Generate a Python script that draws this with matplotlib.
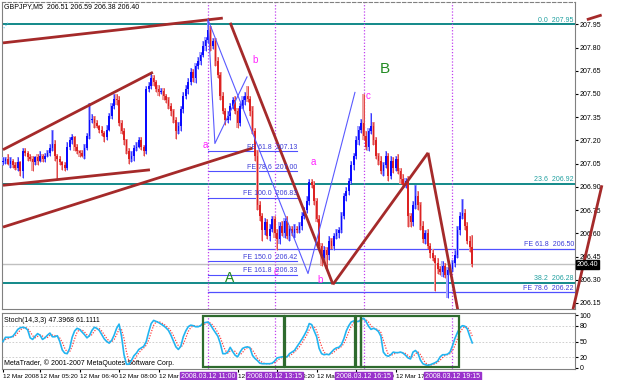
import numpy as np
import pandas as pd
import matplotlib
matplotlib.use("Agg")
import matplotlib.pyplot as plt
from matplotlib.patches import Rectangle

plt.rcParams['font.family'] = ['Liberation Sans', 'DejaVu Sans']

# GBPJPY M5, 12 Mar 2008, bar 0 = 04:05
first_open = 207.06
closes = [
    207.07, 207.08, 207.05, 207.07, 207.04, 207.02, 207.06, 207.00, 207.13, 207.12,
    207.09, 207.08, 207.06, 207.09, 207.07, 207.10, 207.08, 207.10, 207.12, 207.15,
    207.18, 207.10, 207.08, 207.06, 207.04, 207.02, 207.16, 207.20, 207.22, 207.16,
    207.13, 207.12, 207.10, 207.15, 207.23, 207.33, 207.34, 207.31, 207.29, 207.27,
    207.25, 207.22, 207.27, 207.36, 207.42, 207.47, 207.46, 207.31, 207.26, 207.20,
    207.13, 207.08, 207.10, 207.15, 207.16, 207.20, 207.16, 207.13, 207.53, 207.55,
    207.60, 207.58, 207.53, 207.51, 207.52, 207.49, 207.46, 207.42, 207.39, 207.33,
    207.26, 207.29, 207.40, 207.49, 207.53, 207.58, 207.64, 207.60, 207.68, 207.71,
    207.75, 207.81, 207.85, 207.91, 207.81, 207.84, 207.71, 207.62, 207.49, 207.39,
    207.33, 207.36, 207.42, 207.46, 207.39, 207.31, 207.42, 207.46, 207.49, 207.47,
    207.39, 207.26, 207.10, 206.78, 206.71, 206.62, 206.67, 206.58, 206.63, 206.69,
    206.60, 206.56, 206.65, 206.60, 206.68, 206.58, 206.63, 206.60, 206.63, 206.62,
    206.65, 206.71, 206.75, 206.81, 206.93, 206.91, 206.81, 206.69, 206.52, 206.44,
    206.49, 206.46, 206.55, 206.52, 206.58, 206.60, 206.62, 206.71, 206.84, 206.87,
    206.94, 207.04, 207.10, 207.20, 207.27, 207.31, 207.23, 207.16, 207.26, 207.29,
    207.20, 207.10, 207.07, 207.00, 207.04, 207.10, 206.97, 207.07, 207.02, 207.08,
    207.00, 206.95, 206.91, 206.94, 206.71, 206.67, 206.78, 206.84, 206.78, 206.65,
    206.56, 206.60, 206.52, 206.47, 206.44, 206.41, 206.37, 206.35, 206.39, 206.33,
    206.36, 206.37, 206.41, 206.46, 206.62, 206.71, 206.73, 206.65, 206.55, 206.51,
    206.40]

# wicks in pips above / below the body
up_wick = [
    2, 1, 3, 2, 1, 2, 3, 1, 2, 2,   1, 2, 2, 1, 2, 3, 1, 2, 2, 3,
    0, 2, 1, 2, 1, 2, 3, 2, 2, 1,   2, 1, 2, 3, 2, 0, 3, 2, 2, 1,
    2, 1, 3, 2, 2, 3, 0, 3, 2, 2,   1, 2, 3, 2, 3, 2, 2, 1, 2, 3,
    0, 2, 1, 3, 2, 2, 1, 2, 2, 1,   2, 3, 2, 2, 3, 2, 3, 2, 2, 3,
    2, 3, 2, 0, 3, 2, 2, 3, 2, 2,   2, 3, 2, 2, 3, 2, 2, 3, 2, 0,
    2, 3, 2, 4, 3, 2, 3, 2, 3, 2,   2, 3, 2, 3, 2, 3, 2, 2, 3, 2,
    2, 3, 2, 3, 2, 0, 3, 2, 3, 2,   3, 2, 3, 2, 2, 3, 2, 3, 2, 3,
    2, 3, 2, 3, 2, 3, 0, 3, 2, 0,   3, 2, 2, 3, 2, 3, 2, 3, 2, 2,
    3, 2, 3, 2, 3, 2, 3, 0, 3, 2,   3, 2, 3, 2, 3, 2, 3, 2, 3, 2,
    2, 3, 2, 3, 3, 3, 0, 3, 2, 3,   0]
dn_wick = [
    2, 2, 1, 3, 2, 1, 2, 3, 0, 2,   2, 1, 0, 2, 3, 1, 2, 2, 1, 2,
    2, 3, 0, 2, 3, 2, 1, 2, 2, 3,   2, 3, 0, 2, 1, 2, 2, 3, 1, 2,
    2, 3, 2, 1, 2, 2, 3, 2, 2, 3,   2, 0, 2, 3, 2, 1, 2, 0, 2, 2,
    2, 3, 2, 2, 1, 3, 2, 2, 3, 2,   0, 2, 3, 2, 2, 3, 2, 2, 3, 2,
    2, 1, 3, 2, 3, 2, 3, 2, 3, 2,   3, 2, 3, 2, 2, 3, 2, 2, 3, 2,
    3, 2, 3, 3, 3, 0, 3, 2, 3, 2,   3, 0, 3, 2, 3, 2, 3, 2, 3, 2,
    2, 3, 2, 2, 3, 2, 3, 2, 3, 0,   3, 0, 3, 2, 3, 2, 3, 2, 2, 3,
    2, 2, 3, 2, 3, 2, 3, 2, 3, 2,   3, 2, 3, 2, 3, 2, 3, 2, 3, 2,
    2, 3, 2, 2, 0, 3, 2, 2, 3, 3,   2, 3, 2, 3, 2, 0, 3, 2, 3, 2,
    0, 3, 2, 3, 2, 3, 2, 3, 2, 3,   0]

# longer wicks
hi_bars = [20, 35, 46, 60, 83, 99, 125, 146, 149, 167, 186, 190]
hi_vals = [207.27, 207.44, 207.50, 207.64, 207.97, 207.55, 206.95, 207.50, 207.38, 206.91,
           206.82, 206.59]
lo_bars = [8, 12, 22, 32, 51, 57, 70, 105, 111, 129, 131, 164, 175, 180, 190]
lo_vals = [206.96, 207.00, 206.95, 207.09, 207.05, 207.10, 207.21, 206.55, 206.49, 206.39,
           206.37, 206.64, 206.23, 206.18, 206.38]

# Stoch(14,3,3) main line
stoch_main = [
    50, 58, 58, 58, 60, 66, 73, 76, 77, 76,
    72, 57, 54, 60, 65, 62, 54, 57, 62, 66,
    59, 59, 61, 50, 34, 28, 27, 37, 58, 70,
    75, 73, 68, 63, 57, 61, 71, 77, 75, 71,
    63, 55, 50, 47, 52, 62, 75, 83, 60, 25,
    7, 7, 14, 23, 28, 35, 38, 41, 50, 68,
    84, 90, 88, 86, 83, 80, 76, 71, 62, 51,
    40, 35, 41, 59, 70, 78, 81, 80, 78, 78,
    80, 85, 86, 87, 82, 74, 67, 60, 46, 27,
    27, 30, 39, 31, 24, 21, 30, 37, 39, 40,
    38, 24, 18, 14, 9, 8, 8, 8, 8, 9,
    13, 19, 20, 21, 21, 21, 27, 30, 33, 40,
    47, 54, 62, 71, 84, 82, 70, 59, 37, 27,
    25, 26, 25, 30, 35, 38, 39, 44, 55, 70,
    80, 87, 89, 88, 88, 92, 94, 88, 79, 73,
    75, 73, 69, 60, 30, 24, 22, 25, 30, 29,
    29, 30, 28, 24, 19, 17, 30, 33, 28, 15,
    8, 6, 5, 6, 8, 10, 13, 21, 25, 25,
    26, 30, 42, 56, 67, 76, 80, 79, 74, 60,
    47.3968]

# time scale (10:40 and 18:40 sit fully under the line labels)
time_bars = [0, 15, 31, 47, 63, 95, 111, 127, 143, 159]
time_labels = ['12 Mar 2008', '12 Mar 05:20', '12 Mar 06:40', '12 Mar 08:00', '12 Mar 09:20',
               '12 Mar 12:00', '12 Mar 13:20', '12 Mar 14:40', '12 Mar 16:00', '12 Mar 17:20']
vline_bars = [83, 110, 146, 182]
vline_labels = ['2008.03.12 11:00', '2008.03.12 13:15', '2008.03.12 16:15', '2008.03.12 19:15']

price_ticks = [207.95, 207.80, 207.65, 207.50, 207.35, 207.20, 207.05, 206.90,
               206.75, 206.60, 206.45, 206.30, 206.15]
stoch_ticks = [100, 80, 50, 20, 0]
last_price = 206.40

fib_levels = [207.95, 206.92, 206.28]
fib_names = ['0.0', '23.6', '38.2']
fe1_levels = [207.13, 207.00, 206.83, 206.42, 206.33]
fe1_names = ['61.8', '78.6', '100.0', '150.0', '161.8']
fe1_start, fe1_end = 83, 119
fe2_levels = [206.50, 206.22]
fe2_names = ['61.8', '78.6']

trend_lines = [
    [(0, 207.83), (89, 207.99)],
    [(0, 207.14), (60.7, 207.64)],
    [(0, 206.91), (59.5, 207.01)],
    [(0, 206.64), (101, 207.15)],
    [(92, 207.96), (133.6, 206.27)],
    [(133.6, 206.27), (172.1, 207.12)],
    [(172.1, 207.12), (184.2, 206.10)],
]
# these two run on past the price scale
outer_lines = [
    [(230.8, 206.11), (242.5, 206.91)],
    [(236.4, 207.98), (242.4, 208.01)],
]
wave_lines = [
    [(83, 207.98), (85.8, 207.18), (98.8, 207.61)],
    [(83, 207.98), (123.5, 206.34), (142.5, 207.51)],
]
wave_marks = [('a', 81.8, 207.17), ('a', 125.5, 207.06), ('b', 102, 207.72),
              ('b', 128.3, 206.30), ('c', 110.5, 206.35), ('c', 147.8, 207.49)]
big_marks = [('A', 91.9, 206.31, 10), ('B', 154.7, 207.66, 11)]
stoch_boxes = [(81.1, 113.8), (114.2, 142.5), (142.9, 144.8), (144.8, 184.6)]

# ---- candles
c = np.array(closes)
o = np.concatenate([[first_open], c[:-1]])
h = np.maximum(o, c) + np.array(up_wick) / 100
l = np.minimum(o, c) - np.array(dn_wick) / 100
h[hi_bars] = hi_vals
l[lo_bars] = lo_vals
x = np.arange(len(c))

stoch = pd.Series(stoch_main)
signal = stoch.rolling(3, min_periods=1).mean()

fig = plt.figure(figsize=(6.25, 3.8), dpi=100)
ax = fig.add_axes([2/625, 1 - 309/380, 573/625, 307/380])
axs = fig.add_axes([2/625, 1 - 369/380, 573/625, 56/380])
xlim = (-0.4, 231.6)

for a in (ax, axs):
    a.set_xlim(*xlim)
    a.yaxis.tick_right()
    a.tick_params(axis='y', labelsize=5, length=2, pad=1.5, colors='black')
    for s in a.spines.values():
        s.set_color('#808080')
        s.set_linewidth(0.8)
ax.spines['top'].set_linestyle((0, (3, 2)))

ax.set_ylim(206.111, 208.094)
ax.set_yticks(price_ticks)
ax.set_yticklabels(['%.2f' % t for t in price_ticks])
ax.set_xticks([])

up = c >= o
col = np.where(up, '#0a0aff', '#dc2222')
pale = np.where(up, '#a8a8ff', '#f0a0a0')
ax.bar(x, h - l, bottom=l, width=0.95, color=pale, lw=0, zorder=3)
ax.vlines(x, l, h, colors=col, lw=0.5, zorder=3.5)
body = np.maximum(np.abs(c - o), 0.006)
ax.bar(x, body, bottom=np.minimum(o, c), width=0.68, color=col, lw=0, zorder=4)

# fibonacci retracement
for lev, name in zip(fib_levels, fib_names):
    ax.axhline(lev, color='#008080', lw=1.3, zorder=2)
    ax.text(xlim[1] - 0.5, lev + 0.005, '%s  %.2f' % (name, lev), color='#20a0a0',
            fontsize=5, ha='right', va='bottom', zorder=6)
ax.plot([-0.4, 2], [207.91, 207.96], color='#66ccee', lw=0.8, ls=':', zorder=2)

# fibonacci expansions
for lev, name in zip(fe1_levels, fe1_names):
    ax.plot([fe1_start, fe1_end], [lev, lev], color='#5050ff', lw=0.8, zorder=2)
    ax.text(fe1_end, lev + 0.004, 'FE %s  %.2f' % (name, lev), color='#3c3cd8',
            fontsize=5, ha='right', va='bottom', zorder=6)
for lev, name in zip(fe2_levels, fe2_names):
    ax.plot([fe1_start, xlim[1]], [lev, lev], color='#5050ff', lw=0.9, zorder=2)
    ax.text(xlim[1] - 0.5, lev + 0.004, 'FE %s  %.2f' % (name, lev), color='#3c3cd8',
            fontsize=5, ha='right', va='bottom', zorder=6)

ax.axhline(last_price, color='#c0c0c0', lw=1.0, zorder=1)
ax.text(1.003, last_price, '%.2f' % last_price, transform=ax.get_yaxis_transform(),
        color='white', fontsize=5, ha='left', va='center', zorder=7, clip_on=False,
        bbox=dict(boxstyle='square,pad=0.15', fc='black', ec='black'))

for seg in trend_lines:
    xs, ys = zip(*seg)
    ax.plot(xs, ys, color='#a52a2a', lw=2.0, zorder=5, solid_capstyle='butt')
for seg in outer_lines:
    xs, ys = zip(*seg)
    ax.plot(xs, ys, color='#a52a2a', lw=2.0, zorder=5, solid_capstyle='butt', clip_on=False)
for seg in wave_lines:
    xs, ys = zip(*seg)
    ax.plot(xs, ys, color='#5a5aff', lw=0.8, zorder=5)

for t, bx, by in wave_marks:
    ax.text(bx, by, t, color='#ff22ff', fontsize=7, ha='center', va='center', zorder=6)
for t, bx, by, fs in big_marks:
    ax.text(bx, by, t, color='#228b22', fontsize=fs, ha='center', va='center', zorder=6)

ax.text(0.004, 0.984, 'GBPJPY,M5  206.51 206.59 206.38 206.40', transform=ax.transAxes,
        fontsize=5, ha='left', va='center', zorder=8)

# stochastic panel
axs.set_ylim(-2, 104)
axs.set_yticks(stoch_ticks)
axs.set_yticklabels([str(t) for t in stoch_ticks])
for lev in (80, 50, 20):
    axs.axhline(lev, color='#c8c8c8', lw=0.6, ls=(0, (2, 2)), zorder=1)
axs.plot(x, signal, color='#ff4040', lw=0.9, ls=(0, (1, 1.2)), zorder=3)
axs.plot(x, stoch, color='#22b4f0', lw=1.2, zorder=4)
for x0, x1 in stoch_boxes:
    axs.add_patch(Rectangle((x0, 2), x1 - x0, 96, fill=False, ec='#2e6b2e', lw=1.6, zorder=5))
axs.text(0.004, 0.875, 'Stoch(14,3,3) 47.3968 61.1111', transform=axs.transAxes,
         fontsize=5, ha='left', va='center')
axs.text(0.004, 0.11, 'MetaTrader, \u00a9 2001-2007 MetaQuotes Software Corp.',
         transform=axs.transAxes, fontsize=5, ha='left', va='center')

axs.set_xticks(time_bars)
axs.set_xticklabels(time_labels, fontsize=4.6, ha='left')
axs.tick_params(axis='x', length=2, pad=1.5)

for a in (ax, axs):
    for vb in vline_bars:
        a.axvline(vb, color='#c040f0', lw=0.9, ls=(0, (1, 1.5)), zorder=2)
for vb, lab in zip(vline_bars, vline_labels):
    axs.text(vb, -0.14, lab, transform=axs.get_xaxis_transform(), color='white',
             fontsize=5, ha='center', va='center', zorder=9, clip_on=False,
             bbox=dict(boxstyle='square,pad=0.15', fc='#9932cc', ec='#9932cc'))

fig.savefig('out.png', dpi=100, facecolor='white')
